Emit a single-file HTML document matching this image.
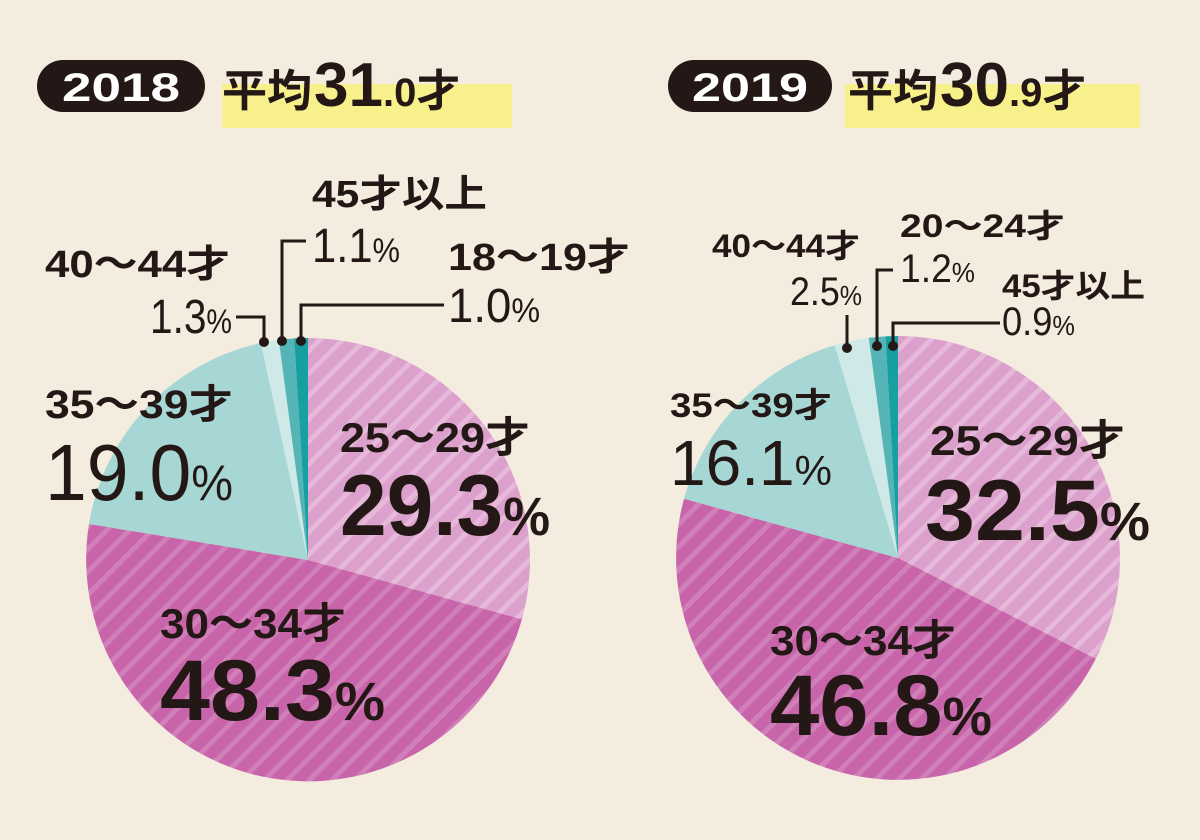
<!DOCTYPE html>
<html><head><meta charset="utf-8"><style>
html,body{margin:0;padding:0;background:#f3ecdf}
svg{display:block}
text{font-family:"Liberation Sans","Noto Sans CJK JP",sans-serif;fill:#231815}
.b{font-weight:bold}
</style></head><body>
<svg width="1200" height="840" viewBox="0 0 1200 840" xmlns="http://www.w3.org/2000/svg">
<defs>
<pattern id="s1" width="16" height="16" patternUnits="userSpaceOnUse" patternTransform="rotate(45)">
<rect width="16" height="16" fill="#dba0cb"/><rect width="5" height="16" fill="#e6b8d9"/></pattern>
<pattern id="s2" width="16" height="16" patternUnits="userSpaceOnUse" patternTransform="rotate(45)">
<rect width="16" height="16" fill="#c865aa"/><rect width="5" height="16" fill="#d07fb8"/></pattern>
</defs>
<rect width="1200" height="840" fill="#f3ecdf"/>

<!-- 2018 header -->
<rect x="37" y="60" width="168" height="52" rx="26" fill="#231815"/>
<text x="121" y="101" class="b" font-size="40" text-anchor="middle" style="fill:#fff" textLength="118" lengthAdjust="spacingAndGlyphs">2018</text>
<rect x="222" y="84" width="290" height="44" fill="#f8f08a"/>
<text x="222" y="106" class="b" font-size="44"><tspan textLength="90" lengthAdjust="spacingAndGlyphs">平均</tspan><tspan font-size="62" dx="2">31</tspan><tspan font-size="40">.0</tspan><tspan font-size="44">才</tspan></text>

<!-- pie 2018 -->
<g>
<path d="M308,560 L308,338 A222,222 0 0,1 521.9,619.3 Z" fill="url(#s1)"/>
<path d="M308,560 L521.9,619.3 A222,222 0 0,1 89,523.9 Z" fill="url(#s2)"/>
<path d="M308,560 L89,523.9 A222,222 0 0,1 260.9,343 Z" fill="#a7d7d5"/>
<path d="M308,560 L260.9,343 A222,222 0 0,1 278.8,339.9 Z" fill="#cfe8e8"/>
<path d="M308,560 L278.8,339.9 A222,222 0 0,1 294.1,338.4 Z" fill="#55b5b6"/>
<path d="M308,560 L294.1,338.4 A222,222 0 0,1 308,338 Z" fill="#16a0a2"/>
</g>
<g stroke="#231815" stroke-width="3" fill="none">
<polyline points="236,317 264,317 264,342"/>
<polyline points="306,241 282,241 282,341"/>
<polyline points="444,305 301,305 301,341"/>
</g>
<g fill="#231815"><circle cx="264" cy="342" r="5"/><circle cx="282" cy="341" r="5"/><circle cx="301" cy="341" r="5"/></g>

<text x="312" y="207" class="b" font-size="38" textLength="175" lengthAdjust="spacingAndGlyphs">45才以上</text>
<text x="312" y="262" font-size="48" textLength="88" lengthAdjust="spacingAndGlyphs">1.1<tspan font-size="34">%</tspan></text>
<text x="448" y="270" class="b" font-size="38" textLength="182" lengthAdjust="spacingAndGlyphs">18〜19才</text>
<text x="448" y="322" font-size="48" textLength="92" lengthAdjust="spacingAndGlyphs">1.0<tspan font-size="34">%</tspan></text>
<text x="45" y="277" class="b" font-size="38" textLength="185" lengthAdjust="spacingAndGlyphs">40〜44才</text>
<text x="150" y="333" font-size="48" textLength="82" lengthAdjust="spacingAndGlyphs">1.3<tspan font-size="34">%</tspan></text>
<text x="45" y="418" class="b" font-size="40" textLength="188" lengthAdjust="spacingAndGlyphs">35〜39才</text>
<text x="45" y="500" font-size="80" textLength="188" lengthAdjust="spacingAndGlyphs">19.0<tspan font-size="50">%</tspan></text>
<text x="340" y="452" class="b" font-size="42" textLength="190" lengthAdjust="spacingAndGlyphs">25〜29才</text>
<text x="340" y="535" class="b" font-size="86" textLength="210" lengthAdjust="spacingAndGlyphs">29.3<tspan font-size="54">%</tspan></text>
<text x="160" y="638" class="b" font-size="42" textLength="186" lengthAdjust="spacingAndGlyphs">30〜34才</text>
<text x="160" y="720" class="b" font-size="86" textLength="225" lengthAdjust="spacingAndGlyphs">48.3<tspan font-size="54">%</tspan></text>

<!-- 2019 header -->
<rect x="668" y="60" width="164" height="52" rx="26" fill="#231815"/>
<text x="750" y="101" class="b" font-size="40" text-anchor="middle" style="fill:#fff" textLength="116" lengthAdjust="spacingAndGlyphs">2019</text>
<rect x="845" y="84" width="295" height="44" fill="#f8f08a"/>
<text x="848" y="106" class="b" font-size="44"><tspan textLength="90" lengthAdjust="spacingAndGlyphs">平均</tspan><tspan font-size="62" dx="2">30</tspan><tspan font-size="40">.9</tspan><tspan font-size="44">才</tspan></text>

<!-- pie 2019 -->
<g>
<path d="M898,558 L898,336 A222,222 0 0,1 1095.8,658.8 Z" fill="url(#s1)"/>
<path d="M898,558 L1095.8,658.8 A222,222 0 0,1 684.1,498.7 Z" fill="url(#s2)"/>
<path d="M898,558 L684.1,498.7 A222,222 0 0,1 834.7,345.2 Z" fill="#a7d7d5"/>
<path d="M898,558 L834.7,345.2 A222,222 0 0,1 868.8,337.9 Z" fill="#cfe8e8"/>
<path d="M898,558 L868.8,337.9 A222,222 0 0,1 885.5,336.4 Z" fill="#55b5b6"/>
<path d="M898,558 L885.5,336.4 A222,222 0 0,1 898,336 Z" fill="#16a0a2"/>
</g>
<g stroke="#231815" stroke-width="3" fill="none">
<polyline points="847,315 847,348"/>
<polyline points="893,270 877,270 877,346"/>
<polyline points="1000,323 893,323 893,346"/>
</g>
<g fill="#231815"><circle cx="847" cy="348" r="5"/><circle cx="877" cy="346" r="5"/><circle cx="893" cy="346" r="5"/></g>

<text x="900" y="237" class="b" font-size="32" textLength="165" lengthAdjust="spacingAndGlyphs">20〜24才</text>
<text x="900" y="282" font-size="40" textLength="75" lengthAdjust="spacingAndGlyphs">1.2<tspan font-size="28">%</tspan></text>
<text x="1002" y="297" class="b" font-size="32" textLength="143" lengthAdjust="spacingAndGlyphs">45才以上</text>
<text x="1002" y="335" font-size="40" textLength="73" lengthAdjust="spacingAndGlyphs">0.9<tspan font-size="28">%</tspan></text>
<text x="712" y="257" class="b" font-size="32" textLength="148" lengthAdjust="spacingAndGlyphs">40〜44才</text>
<text x="790" y="305" font-size="40" textLength="72" lengthAdjust="spacingAndGlyphs">2.5<tspan font-size="28">%</tspan></text>
<text x="670" y="417" class="b" font-size="34" textLength="162" lengthAdjust="spacingAndGlyphs">35〜39才</text>
<text x="670" y="485" font-size="64" textLength="162" lengthAdjust="spacingAndGlyphs">16.1<tspan font-size="42">%</tspan></text>
<text x="930" y="455" class="b" font-size="42" textLength="195" lengthAdjust="spacingAndGlyphs">25〜29才</text>
<text x="925" y="540" class="b" font-size="86" textLength="225" lengthAdjust="spacingAndGlyphs">32.5<tspan font-size="54">%</tspan></text>
<text x="770" y="655" class="b" font-size="42" textLength="186" lengthAdjust="spacingAndGlyphs">30〜34才</text>
<text x="770" y="735" class="b" font-size="86" textLength="222" lengthAdjust="spacingAndGlyphs">46.8<tspan font-size="54">%</tspan></text>
</svg>
</body></html>
